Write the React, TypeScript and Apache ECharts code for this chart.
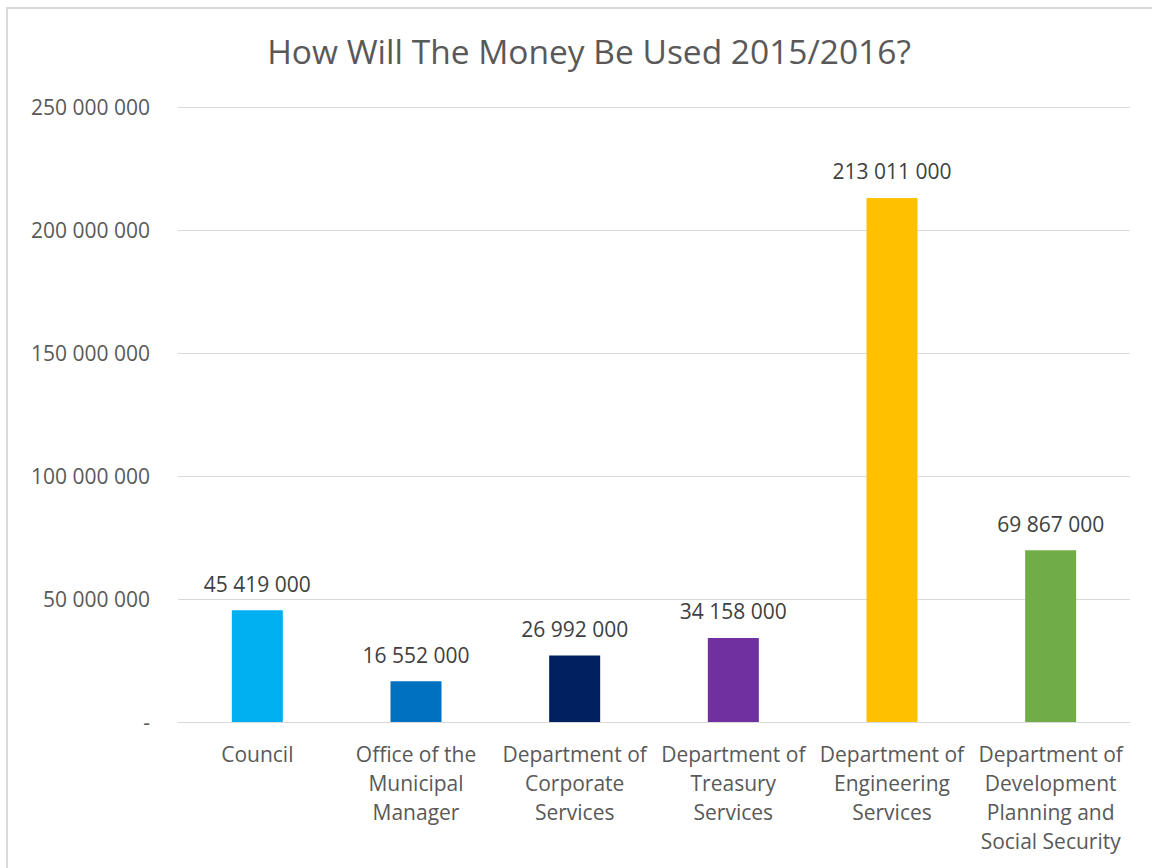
import React, { useEffect, useRef } from "react";
import * as echarts from "echarts";

const categories = [
  "Council",
  "Office of the\nMunicipal\nManager",
  "Department of\nCorporate\nServices",
  "Department of\nTreasury\nServices",
  "Department of\nEngineering\nServices",
  "Department of\nDevelopment\nPlanning and\nSocial Security",
];
const values = [45419000, 16552000, 26992000, 34158000, 213011000, 69867000];
const colors = ["#00B0F0", "#0070C0", "#002060", "#7030A0", "#FFC000", "#70AD47"];
const titleText = "How Will The Money Be Used 2015/2016?";

const fmt = (v: number) => {
  if (v === 0) return "-";
  return Math.round(v).toString().replace(/\B(?=(\d{3})+(?!\d))/g, " ");
};

const FONT = "'Open Sans', sans-serif";

export default function App() {
  const ref = useRef<HTMLDivElement>(null);
  useEffect(() => {
    if (!ref.current) return;
    const chart = echarts.init(ref.current, null, { renderer: "svg" });
    chart.setOption({
      animation: false,
      backgroundColor: "#ffffff",
      title: {
        text: titleText,
        left: 576,
        textAlign: "center",
        top: 20,
        textStyle: { color: "#595959", fontSize: 33.5, fontWeight: "normal", fontFamily: FONT },
      },
      grid: { left: 170, right: 36, top: 98, bottom: 155, containLabel: false },
      xAxis: {
        type: "category",
        data: categories,
        axisLine: { lineStyle: { color: "#d9d9d9", width: 1 } },
        axisTick: { show: false },
        axisLabel: {
          color: "#595959",
          fontSize: 21,
          fontFamily: FONT,
          lineHeight: 29,
          margin: 17,
          interval: 0,
          verticalAlign: "top",
        },
      },
      yAxis: {
        type: "value",
        min: 0,
        max: 250000000,
        interval: 50000000,
        axisLine: { show: false },
        axisTick: { show: false },
        splitLine: { lineStyle: { color: "#d9d9d9", width: 1 } },
        axisLabel: {
          color: "#595959",
          fontSize: 21,
          fontFamily: FONT,
          margin: 28,
          formatter: (v: number) => fmt(v),
        },
      },
      series: [
        {
          type: "bar",
          barWidth: 51,
          data: values.map((v, i) => ({ value: v, itemStyle: { color: colors[i] } })),
          label: {
            show: true,
            position: "top",
            distance: 16,
            color: "#404040",
            fontSize: 21,
            fontFamily: FONT,
            formatter: (p: any) => fmt(p.value),
          },
        },
      ],
    });
    return () => chart.dispose();
  }, []);
  return (
    <div
      ref={ref}
      style={{
        position: "fixed",
        left: 6,
        top: 7,
        width: 1160,
        height: 870,
        borderLeft: "2px solid #d9d9d9",
        borderTop: "2px solid #d9d9d9",
        boxSizing: "border-box",
      }}
    />
  );
}
